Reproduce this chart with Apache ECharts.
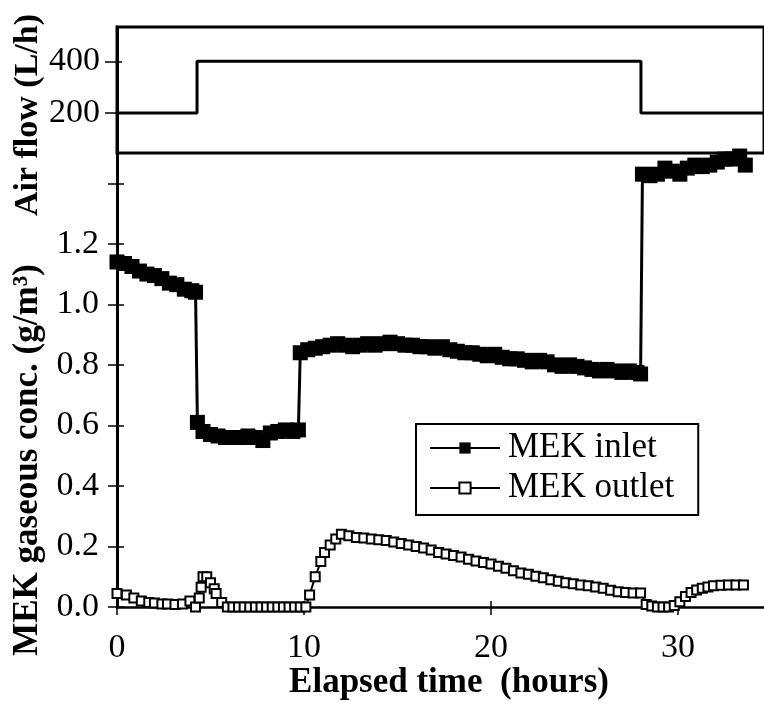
<!DOCTYPE html>
<html lang="en">
<head>
<meta charset="UTF-8">
<title>MEK inlet / outlet</title>
<script src="https://cdn.jsdelivr.net/npm/echarts/dist/echarts.min.js"></script>
<style>
    html, body { margin: 0; padding: 0; background: #fff; }
    #container { width: 764px; height: 704px; }
</style>
</head>
<body>
<div id="container"></div>
<script type="text/javascript">
    // air flow steps (L/h)
    var flowTime = [0, 4.28, 28.02, 34.6];
    var flowRate = [200, 400, 200, 200];

    // MEK inlet (g/m3)
    var inletTime = [
        0, 0.4, 0.8, 1.2, 1.6, 2.0, 2.4, 2.8, 3.2, 3.6,
        4.0, 4.2, 4.3, 4.6, 5.0, 5.4, 5.8, 6.2, 6.6, 7.0,
        7.4, 7.8, 8.2, 8.6, 9.0, 9.4, 9.7, 9.8, 10.2, 10.6,
        11.0, 11.4, 11.8, 12.2, 12.6, 13.0, 13.4, 13.8, 14.2, 14.6,
        15.0, 15.4, 15.8, 16.2, 16.6, 17.0, 17.4, 17.8, 18.2, 18.6,
        19.0, 19.4, 19.8, 20.2, 20.6, 21.0, 21.4, 21.8, 22.2, 22.6,
        23.0, 23.4, 23.8, 24.2, 24.6, 25.0, 25.4, 25.8, 26.2, 26.6,
        27.0, 27.4, 27.8, 28.0, 28.1, 28.5, 28.9, 29.3, 29.7, 30.1,
        30.5, 30.9, 31.3, 31.7, 32.1, 32.5, 32.9, 33.3, 33.6
    ];
    var inletConc = [
        1.14, 1.135, 1.125, 1.11, 1.10, 1.095, 1.085, 1.07, 1.065, 1.05,
        1.045, 1.04, 0.61, 0.58, 0.57, 0.565, 0.56, 0.56, 0.56, 0.565,
        0.56, 0.55, 0.575, 0.58, 0.585, 0.58, 0.585, 0.84, 0.85, 0.855,
        0.86, 0.865, 0.87, 0.865, 0.86, 0.865, 0.87, 0.865, 0.87, 0.875,
        0.87, 0.865, 0.865, 0.86, 0.86, 0.855, 0.86, 0.85, 0.845, 0.84,
        0.84, 0.835, 0.83, 0.835, 0.825, 0.82, 0.82, 0.815, 0.81, 0.815,
        0.81, 0.80, 0.795, 0.80, 0.795, 0.79, 0.785, 0.78, 0.785, 0.78,
        0.775, 0.78, 0.775, 0.77, 1.43, 1.425, 1.43, 1.45, 1.44, 1.43,
        1.45, 1.46, 1.455, 1.46, 1.47, 1.48, 1.48, 1.49, 1.46
    ];

    // MEK outlet (g/m3)
    var outletTime = [
        0, 0.5, 0.9, 1.3, 1.7, 2.0, 2.4, 2.7, 3.1, 3.5,
        3.9, 4.2, 4.4, 4.5, 4.6, 4.8, 5.0, 5.2, 5.3, 5.6,
        5.9, 6.2, 6.5, 6.8, 7.1, 7.4, 7.7, 8.0, 8.3, 8.6,
        8.9, 9.2, 9.5, 9.8, 10.1, 10.3, 10.6, 10.9, 11.1, 11.4,
        11.7, 12.0, 12.4, 12.8, 13.2, 13.6, 14.0, 14.4, 14.8, 15.2,
        15.6, 16.0, 16.4, 16.8, 17.2, 17.6, 18.0, 18.4, 18.8, 19.2,
        19.6, 20.0, 20.4, 20.8, 21.2, 21.6, 22.0, 22.4, 22.8, 23.2,
        23.6, 24.0, 24.4, 24.8, 25.2, 25.6, 26.0, 26.4, 26.8, 27.2,
        27.6, 28.0, 28.3, 28.6, 28.9, 29.2, 29.5, 29.8, 30.1, 30.4,
        30.7, 31.0, 31.3, 31.6, 31.9, 32.3, 32.7, 33.1, 33.5
    ];
    var outletConc = [
        0.045, 0.04, 0.03, 0.02, 0.015, 0.013, 0.01, 0.01, 0.008, 0.01,
        0.02, 0.0, 0.03, 0.065, 0.1, 0.1, 0.08, 0.06, 0.045, 0.015,
        0, 0, 0, 0, 0, 0, 0, 0, 0, 0,
        0, 0, 0, 0, 0, 0.04, 0.1, 0.15, 0.18, 0.205,
        0.225, 0.24, 0.235, 0.23, 0.228, 0.225, 0.222, 0.22, 0.215, 0.21,
        0.205, 0.2, 0.195, 0.188, 0.18, 0.175, 0.17, 0.165, 0.158, 0.152,
        0.147, 0.142, 0.135, 0.128, 0.12, 0.112, 0.108, 0.102, 0.097, 0.09,
        0.085, 0.08, 0.077, 0.073, 0.07, 0.066, 0.062, 0.055, 0.05, 0.048,
        0.046, 0.046, 0.008, 0.003, 0, 0, 0, 0.005, 0.017, 0.035,
        0.048, 0.056, 0.062, 0.066, 0.07, 0.072, 0.073, 0.073, 0.073
    ];

    // axis ticks / labels
    var timeTicks = [0, 10, 20, 30];
    var flowTicks = [200, 400];
    var concTicks = [0, 0.2, 0.4, 0.6, 0.8, 1.0, 1.2, 1.4];
    var concLabels = [0, 0.2, 0.4, 0.6, 0.8, 1.0, 1.2];

    function pairs(xs, ys) {
        return xs.map(function (x, i) { return [x, ys[i]]; });
    }

    var serif = "'Liberation Serif', 'Times New Roman', serif";
    var dom = document.getElementById('container');
    var myChart = echarts.init(dom, null, { renderer: 'canvas' });

    var option = {
        animation: false,
        backgroundColor: '#fff',
        grid: [
            { left: 117, right: 0, top: 27, height: 126, outerBoundsMode: 'none', show: true, borderColor: '#000', borderWidth: 3 },
            { left: 117, right: 0, top: 153, height: 454, outerBoundsMode: 'none' }
        ],
        xAxis: [
            { gridIndex: 0, type: 'value', min: 0, max: 34.6, show: false },
            {
                gridIndex: 1, type: 'value', min: 0, max: 34.6, position: 'bottom',
                axisLine: { lineStyle: { color: '#000', width: 2.5 } },
                axisTick: { customValues: timeTicks, length: 8, lineStyle: { color: '#000', width: 1.5 } },
                axisLabel: { customValues: timeTicks, margin: 24, fontSize: 34, fontFamily: serif, color: '#000' },
                splitLine: { show: false }
            },
            {
                gridIndex: 1, type: 'value', min: 0, max: 34.6, position: 'bottom',
                axisLine: { show: false },
                axisTick: { inside: true, customValues: timeTicks, length: 6, lineStyle: { color: '#000', width: 1.5 } },
                axisLabel: { show: false },
                splitLine: { show: false }
            }
        ],
        yAxis: [
            {
                gridIndex: 0, type: 'value', min: 45, max: 533,
                axisLine: { show: true, lineStyle: { color: '#000', width: 3 } },
                axisTick: { customValues: flowTicks, length: 12, lineStyle: { color: '#000', width: 1.5 } },
                axisLabel: { customValues: flowTicks, margin: 17, fontSize: 34, fontFamily: serif, color: '#000' },
                splitLine: { show: false }
            },
            {
                gridIndex: 1, type: 'value', min: 0, max: 1.5,
                axisLine: { show: true, lineStyle: { color: '#000', width: 3 } },
                axisTick: { customValues: concTicks, length: 9, lineStyle: { color: '#000', width: 1.5 } },
                axisLabel: {
                    customValues: concLabels, margin: 18, fontSize: 34, fontFamily: serif, color: '#000',
                    formatter: function (v) { return v.toFixed(1); }
                },
                splitLine: { show: false }
            },
            {
                gridIndex: 0, type: 'value', min: 45, max: 533, position: 'left',
                axisLine: { show: false },
                axisTick: { inside: true, customValues: flowTicks, length: 5, lineStyle: { color: '#000', width: 1.5 } },
                axisLabel: { show: false },
                splitLine: { show: false }
            },
            {
                gridIndex: 1, type: 'value', min: 0, max: 1.5, position: 'left',
                axisLine: { show: false },
                axisTick: { inside: true, customValues: concTicks, length: 7, lineStyle: { color: '#000', width: 1.5 } },
                axisLabel: { show: false },
                splitLine: { show: false }
            }
        ],
        legend: {
            data: ['MEK inlet', 'MEK outlet'],
            orient: 'vertical',
            left: 416,
            top: 424,
            borderColor: '#000',
            borderWidth: 2,
            borderRadius: 0,
            padding: [5, 24, 8, 13],
            itemGap: 2,
            itemWidth: 70,
            itemHeight: 14,
            textStyle: { fontFamily: serif, fontSize: 35, color: '#000', lineHeight: 38, padding: [0, 0, 0, 3] }
        },
        graphic: [
            {
                type: 'text', x: 28, y: 115, rotation: Math.PI / 2,
                style: { text: 'Air flow (L/h)', fontFamily: serif, fontWeight: 'bold', fontSize: 34, fill: '#000', align: 'center', verticalAlign: 'middle' }
            },
            {
                type: 'text', x: 28, y: 460, rotation: Math.PI / 2,
                style: { text: 'MEK gaseous conc. (g/m³)', fontFamily: serif, fontWeight: 'bold', fontSize: 35, fill: '#000', align: 'center', verticalAlign: 'middle' }
            },
            {
                type: 'text', x: 449, y: 700,
                style: { text: 'Elapsed time  (hours)', fontFamily: serif, fontWeight: 'bold', fontSize: 35, fill: '#000', align: 'center', verticalAlign: 'bottom' }
            }
        ],
        series: [
            {
                name: 'Air flow',
                type: 'line',
                xAxisIndex: 0,
                yAxisIndex: 0,
                step: 'end',
                symbol: 'none',
                silent: true,
                lineStyle: { color: '#000', width: 3 },
                data: pairs(flowTime, flowRate)
            },
            {
                name: 'MEK inlet',
                type: 'line',
                xAxisIndex: 1,
                yAxisIndex: 1,
                symbol: 'rect',
                symbolSize: 15,
                clip: false,
                silent: true,
                itemStyle: { color: '#000' },
                lineStyle: { color: '#000', width: 3 },
                data: pairs(inletTime, inletConc)
            },
            {
                name: 'MEK outlet',
                type: 'line',
                xAxisIndex: 1,
                yAxisIndex: 1,
                symbol: 'rect',
                symbolSize: 9,
                clip: false,
                silent: true,
                itemStyle: { color: '#fff', borderColor: '#000', borderWidth: 2 },
                lineStyle: { color: '#000', width: 2 },
                data: pairs(outletTime, outletConc)
            }
        ]
    };
    myChart.setOption(option);
    window.addEventListener('resize', myChart.resize);
</script>
</body>
</html>
